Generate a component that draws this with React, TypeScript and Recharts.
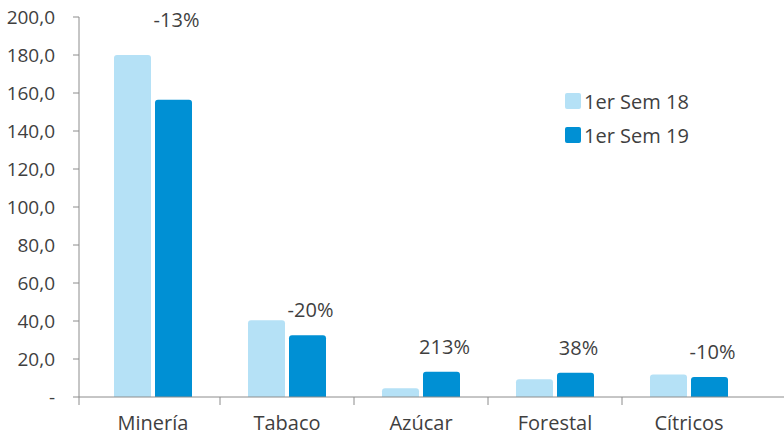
import React from "react";
import { BarChart, Bar, XAxis, YAxis, LabelList } from "recharts";

const categories = ["Minería", "Tabaco", "Azúcar", "Forestal", "Cítricos"];
const sem18 = [180.0, 40.4, 4.6, 9.3, 11.9];
const sem19 = [156.4, 32.5, 13.3, 12.7, 10.5];
const changes = ["-13%", "-20%", "213%", "38%", "-10%"];
const yTicks = [0, 20, 40, 60, 80, 100, 120, 140, 160, 180, 200];

const LIGHT = "#b5e1f6";
const DARK = "#0090d4";
const TEXT = "#3f3f3f";
const AXIS = "#8c8c8c";
const FONT = "'Open Sans', 'Noto Sans', sans-serif";

const data = categories.map((name, i) => ({
    name,
    s18: sem18[i],
    s19: sem19[i],
    change: changes[i],
}));

const fmtY = (v: number) => (v === 0 ? "-" : v.toFixed(1).replace(".", ","));

const BAND = 134;
const PAD_LEFT = 7;

function CategoryTick(props: any) {
    const { x, y, payload, index } = props;
    const bx = index === 0 ? x - BAND / 2 - PAD_LEFT : x - BAND / 2;
    return (
        <g>
            <line x1={bx} y1={y} x2={bx} y2={y + 8} stroke={AXIS} strokeWidth={1} />
            <text
                x={x}
                y={y + 33}
                textAnchor="middle"
                fill={TEXT}
                fontSize={20}
                fontFamily={FONT}
            >
                {payload.value}
            </text>
        </g>
    );
}

function ChangeLabel(props: any) {
    const { x, y, width, value, index } = props;
    const row = data[index];
    // the big category has its label pinned near the top of the plot
    const ty = row.s19 > 100 ? 27 : y - 18;
    return (
        <text
            x={x + width / 2 + 3}
            y={ty}
            textAnchor="middle"
            fill={TEXT}
            fontSize={20}
            fontFamily={FONT}
        >
            {value}
        </text>
    );
}

function LegendBox() {
    const items = [
        { label: "1er Sem 18", color: LIGHT },
        { label: "1er Sem 19", color: DARK },
    ];
    return (
        <div
            style={{
                position: "absolute",
                left: 565,
                top: 84,
                fontFamily: FONT,
            }}
        >
            {items.map((it) => (
                <div
                    key={it.label}
                    style={{
                        display: "flex",
                        alignItems: "center",
                        height: 34,
                        color: TEXT,
                        fontSize: 20,
                        whiteSpace: "nowrap",
                    }}
                >
                    <span
                        style={{
                            width: 16,
                            height: 16,
                            background: it.color,
                            borderRadius: 2,
                            marginRight: 3,
                            display: "inline-block",
                        }}
                    />
                    {it.label}
                </div>
            ))}
        </div>
    );
}

export default function App() {
    return (
        <div
            style={{
                position: "absolute",
                left: 0,
                top: 0,
                width: 784,
                height: 436,
                background: "#fff",
            }}
        >
            <BarChart
                width={784}
                height={436}
                data={data}
                margin={{ top: 17, right: 0, bottom: 0, left: 0 }}
                barGap={4}
                barSize={37}
            >
                <XAxis
                    dataKey="name"
                    height={39}
                    stroke={AXIS}
                    tickLine={false}
                    tickSize={0}
                    tickMargin={0}
                    tick={<CategoryTick />}
                    padding={{ left: PAD_LEFT, right: 28 }}
                    interval={0}
                />
                <YAxis
                    width={79}
                    domain={[0, 200]}
                    ticks={yTicks}
                    tickFormatter={fmtY}
                    stroke={AXIS}
                    tickSize={6}
                    tickMargin={18}
                    tick={{ fill: TEXT, fontSize: 19, fontFamily: FONT }}
                    interval={0}
                />
                <Bar
                    dataKey="s18"
                    name="1er Sem 18"
                    fill={LIGHT}
                    radius={[3, 3, 0, 0]}
                    isAnimationActive={false}
                />
                <Bar
                    dataKey="s19"
                    name="1er Sem 19"
                    fill={DARK}
                    radius={[3, 3, 0, 0]}
                    isAnimationActive={false}
                >
                    <LabelList dataKey="change" content={<ChangeLabel />} />
                </Bar>
            </BarChart>
            <LegendBox />
        </div>
    );
}
